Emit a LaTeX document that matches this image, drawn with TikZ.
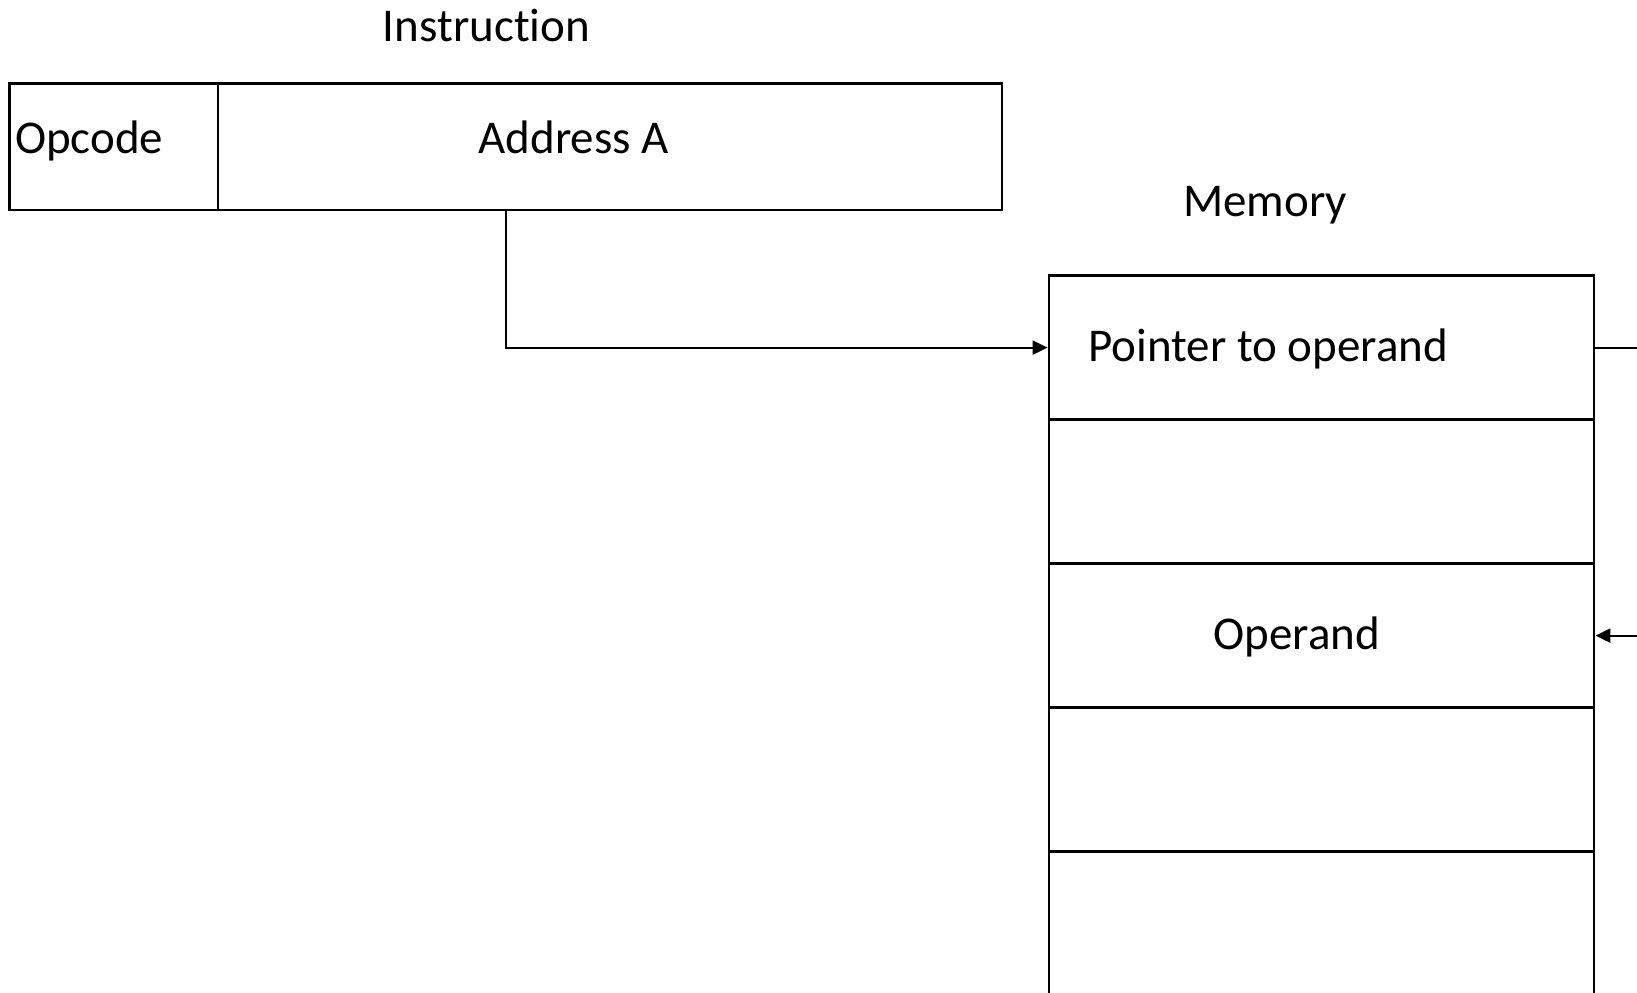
\documentclass[tikz,border=0pt]{standalone}
\usepackage{fontspec}
\setmainfont{Carlito}[Ligatures=CommonOff]
\usetikzlibrary{arrows.meta}

\begin{document}
\begin{tikzpicture}[
    x=0.5pt, y=-0.5pt,
    every node/.style={font=\fontsize{23.5}{28}\selectfont},
    field/.style={
        draw,
        line width=1.3pt,
        inner sep=0pt,
        minimum height=63.25pt
    },
    cell/.style={
        draw,
        line width=1.4pt,
        inner sep=0pt,
        minimum width=272.5pt,
        minimum height=72pt
    },
    lbl/.style={anchor=base, inner sep=0pt},
    conn/.style={line width=1.1pt},
    arr/.style={conn, -{Triangle[length=7.5pt, width=7pt]}}
]
    \useasboundingbox (0,0) rectangle (1637,992);
    \clip (0,0) rectangle (1637,992);

    % Instruction
    \node[field, minimum width=104.3pt] (opcode) at (113.7,146.75) {};
    \node[field, minimum width=392pt] (addr) at (610,146.75) {};

    \node[lbl] (instrlbl) at (486.5,41.5) {Instruction};
    \node[lbl, anchor=base west] (opcodelbl) at (14.6,153) {Opcode};
    \node[lbl] (addrlbl) at (573.6,153) {Address A};

    % Memory
    \foreach \i in {1,...,5}
        \node[cell] (cell\i) at (1321.5,203.6+144*\i) {};

    \node[lbl] (memlbl) at (1265,216.7) {Memory};
    \node[lbl, anchor=base west] (ptrlbl) at (1088,361) {Pointer to operand};
    \node[lbl] (oplbl) at (1296.7,649) {Operand};

    % Arrows
    \coordinate (outA) at (1660,347.6);
    \coordinate (outB) at (1660,635.6);

    \draw[arr] ([xshift=-52pt]addr.south) |- (cell1.west);
    \draw[conn] (cell1.east) -- (outA);
    \draw[arr] (outB) -- (cell3.east);

\end{tikzpicture}
\end{document}
